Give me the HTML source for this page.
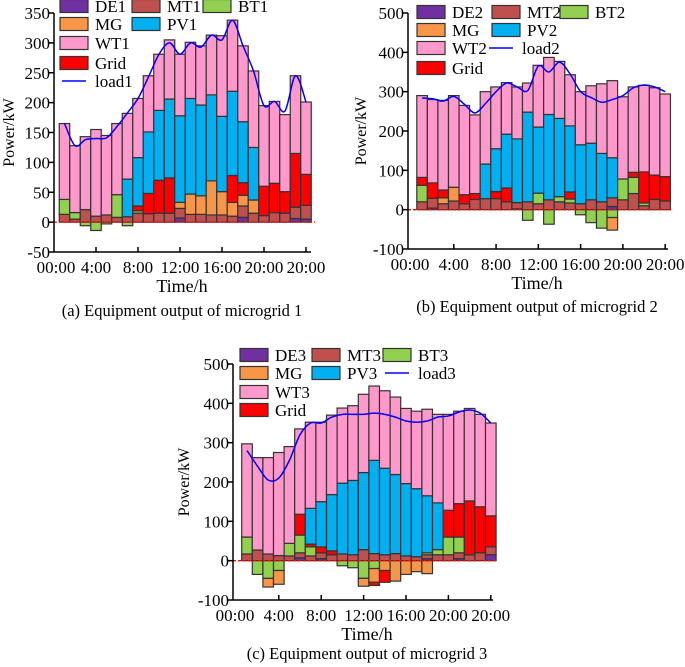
<!DOCTYPE html>
<html><head><meta charset="utf-8"><style>
html,body{margin:0;padding:0;background:#fff}
svg{display:block;font-family:"Liberation Serif",serif}
</style></head><body>
<svg id="s" width="685" height="667" viewBox="0 0 685 667" xmlns="http://www.w3.org/2000/svg"></svg>
<script>
// ---------- data: microgrid 1 ----------
const de1=[0,0,0,0,0,0,0,0,0,0,0,7,0,0,0,0,0,8,0,0,0,0,6,5];
const mt1=[13,5,21,10,12,8,9,15,14,15,15,16,13,13,12,12,10,19,15,11,16,15,19,23];
const bt1=[25,11,-6,-14,-3,38,-6,4,0,0,0,0,0,0,0,0,0,0,0,0,0,0,0,0];
const mg1=[0,0,0,0,0,0,0,0,0,0,0,10,34,31,57,39,23,18,22,0,0,0,0,0];
const grid1=[0,0,0,0,0,0,0,8,34,55,59,0,0,0,0,0,45,21,0,49,49,36,90,52];
const pv1=[0,0,0,0,0,0,63,81,103,117,132,145,160,152,144,126,141,102,88,0,0,0,0,0];
const wt1=[127,112,122,145,133,119,110,99,94,94,99,103,94,99,100,135,119,127,128,135,137,129,130,121];
const load1=[165,128,138,140,141,160,183,207,243,281,300,281,300,293,313,305,338,295,253,195,202,186,245,201];
// ---------- data: microgrid 2 ----------
const de2=[0,4,0,0,0,0,0,0,0,2,0,0,0,0,0,0,0,0,8,0,0,0,0,0];
const mt2=[20,25,15,22,15,26,28,28,20,16,20,15,25,20,17,15,25,20,22,25,41,10,26,22];
const bt2=[42,0,0,0,0,0,0,0,0,0,-27,27,-37,13,10,-13,-33,-47,-20,53,41,7,0,0];
const mg2=[0,0,15,35,0,0,0,0,0,0,0,0,0,0,0,0,0,0,-32,0,0,0,0,0];
const grid2=[20,39,20,0,23,15,0,18,35,0,0,0,0,0,18,0,0,0,0,0,13,79,62,62];
const pv2=[0,0,0,0,0,0,88,109,137,162,228,168,217,199,168,150,144,123,102,0,0,0,0,0];
const wt2=[208,212,228,233,227,200,184,157,131,132,74,157,145,145,130,135,146,177,196,209,217,220,222,210];
const load2=[284,282,276,288,268,246,270,300,322,312,303,365,350,375,345,300,285,273,280,290,310,317,312,300];
// ---------- data: microgrid 3 ----------
const de3=[0,0,0,0,0,7,0,5,0,0,0,0,0,0,0,0,0,5,0,0,5,0,0,15];
const mt3=[17,27,17,13,12,13,12,15,15,17,15,28,18,15,18,12,10,10,15,15,15,15,20,20];
const bt3=[43,-35,-45,-25,32,45,23,0,0,-13,-18,-45,-20,0,0,0,0,5,13,45,40,0,0,0];
const mg3=[0,0,-22,-35,0,0,0,0,0,0,0,-20,-35,-25,-52,-35,-28,-33,0,0,0,0,0,0];
const grid3=[0,0,0,0,0,53,7,15,10,0,0,0,-8,-30,0,0,0,0,0,68,85,137,117,79];
const pv3=[0,0,0,0,0,0,91,115,143,180,189,196,237,220,201,184,173,145,119,0,0,0,0,0];
const wt3=[237,235,245,262,246,217,219,202,202,191,190,199,189,197,197,191,197,220,225,244,235,235,235,236];
const load3=[280,240,205,210,255,320,350,350,365,372,372,372,375,372,365,355,352,355,365,368,378,383,375,350];
// ---------- tick labels ----------
const xTickLabels=["00:00","4:00","8:00","12:00","16:00","20:00","20:00"];
const xTickHours=[0,4,8,12,16,20,24];
const yTicks1=[-50,0,50,100,150,200,250,300,350];
const yTicks23=[-100,0,100,200,300,400,500];

const NS="http://www.w3.org/2000/svg";
const svg=document.getElementById('s');
const COL={DE:"#7030a0",MT:"#c0504d",BT:"#92d050",MG:"#f79646",PV:"#00b0f0",WT:"#ff99cc",Grid:"#ff0000"};
function mk(tag,attrs,parent,txt){const e=document.createElementNS(NS,tag);for(const k in attrs)e.setAttribute(k,attrs[k]);if(txt!==undefined)e.textContent=txt;(parent||svg).appendChild(e);return e;}

function chart(cfg){
  const g=mk('g',{});
  
  
  const ymin=cfg.yTicks[0],ymax=cfg.yTicks[cfg.yTicks.length-1];
  const Y=v=>cfg.yBot-(v-ymin)/(ymax-ymin)*(cfg.yBot-cfg.yTop);
  const X=h=>cfg.x0+cfg.hw*h;
  const bw=cfg.hw;
  const S=cfg.series;
  const posOrder=["DE","MT","BT","MG","Grid","PV","WT"];
  const negOrder=["BT","MG","Grid"];
  for(let i=0;i<24;i++){
    const cx=X(i+1);
    let top=0;
    for(const k of posOrder){const v=S[k][i];if(v>0){const r=mk('rect',{x:cx-bw/2,y:Y(top+v),width:bw,height:Y(top)-Y(top+v),fill:COL[k],stroke:"#333",'stroke-width':1.2},g);
      
      top+=v;}}
    let bot=0;
    for(const k of negOrder){const v=S[k][i];if(v<0){const r=mk('rect',{x:cx-bw/2,y:Y(bot),width:bw,height:Y(bot+v)-Y(bot),fill:COL[k],stroke:"#333",'stroke-width':1.2},g);
      
      bot+=v;}}
  }
  const z=mk('line',{x1:cfg.axisX,x2:cfg.xEnd+4,y1:Y(0),y2:Y(0),stroke:"#ff0000",'stroke-width':1.3,'stroke-dasharray':"3,2"},g);
  
  
  const pts=cfg.load.map((v,i)=>[X(i+1),Y(v)]);
  let d="M"+pts[0][0]+","+pts[0][1];
  for(let i=0;i<pts.length-1;i++){const p0=pts[Math.max(0,i-1)],p1=pts[i],p2=pts[i+1],p3=pts[Math.min(pts.length-1,i+2)];
    d+=" C"+(p1[0]+(p2[0]-p0[0])/6)+","+(p1[1]+(p2[1]-p0[1])/6)+" "+(p2[0]-(p3[0]-p1[0])/6)+","+(p2[1]-(p3[1]-p1[1])/6)+" "+p2[0]+","+p2[1];}
  const ln=mk('path',{d:d,fill:"none",stroke:"#0000ff",'stroke-width':1.5},g);
  
  
  const ya=mk('line',{x1:cfg.axisX,x2:cfg.axisX,y1:cfg.yTop,y2:cfg.yBot,stroke:"#000",'stroke-width':1.5},g);
  
  
  const xa=mk('line',{x1:cfg.axisX,x2:cfg.xEnd,y1:cfg.yBot,y2:cfg.yBot,stroke:"#000",'stroke-width':1.5},g);
  
  
  for(const t of cfg.yTicks){const y=Y(t);mk('line',{x1:cfg.axisX-5,x2:cfg.axisX,y1:y,y2:y,stroke:"#000",'stroke-width':1.5},g);
    const tx=mk('text',{x:cfg.axisX-4,y:y+6,'text-anchor':"end",'font-size':17},g,String(t));
    
    }
  xTickHours.forEach((h,j)=>{const x=j===0?cfg.axisX:X(h);
    if(j>0)mk('line',{x1:x,x2:x,y1:cfg.yBot,y2:cfg.yBot-5,stroke:"#000",'stroke-width':1.5},g);
    const tx=mk('text',{x:j===0?x+2:x,y:cfg.yBot+21,'text-anchor':"middle",'font-size':17},g,xTickLabels[j]);
    
    });
  const yt=mk('text',{x:0,y:0,transform:"translate("+cfg.ytX+","+((cfg.yTop+cfg.yBot)/2)+") rotate(-90)",'text-anchor':"middle",'font-size':16},g,"Power/kW");
  
  
  const xt=mk('text',{x:cfg.midX,y:cfg.yBot+40,'text-anchor':"middle",'font-size':18},g,"Time/h");
  
  
  const cp=mk('text',{x:cfg.midX,y:cfg.capY,'text-anchor':"middle",'font-size':16.5},g,cfg.caption);
  
  
  for(const e of cfg.legend){
    const lg=mk('g',{},g);
    
    
    if(e[1]==="line")mk('line',{x1:e[2]+2,x2:e[2]+26,y1:e[3],y2:e[3],stroke:"#0000ff",'stroke-width':1.5},lg);
    else mk('rect',{x:e[2],y:e[3]-6.5,width:28,height:13,fill:COL[e[1]],stroke:"#333",'stroke-width':1.2},lg);
    mk('text',{x:e[2]+35,y:e[3]+6,'font-size':17},lg,e[0]);
  }
}

chart({name:"chart-microgrid-1",x0:54,axisX:54,hw:10.5,yTop:13,yBot:252,xEnd:311,yTicks:yTicks1,ytX:14,midX:182,capY:316,
  caption:"(a) Equipment output of microgrid 1",
  series:{DE:de1,MT:mt1,BT:bt1,MG:mg1,Grid:grid1,PV:pv1,WT:wt1},load:load1,
  legend:[["DE1","DE",60,6],["MT1","MT",132,6],["BT1","BT",203,6],["MG","MG",60,24],["PV1","PV",132,24],["WT1","WT",60,43],["Grid","Grid",60,63],["load1","line",60,81]]});
chart({name:"chart-microgrid-2",x0:411.5,axisX:408,hw:10.57,yTop:13,yBot:249,xEnd:668,yTicks:yTicks23,ytX:366,midX:537,capY:312,
  caption:"(b) Equipment output of microgrid 2",
  series:{DE:de2,MT:mt2,BT:bt2,MG:mg2,Grid:grid2,PV:pv2,WT:wt2},load:load2,
  legend:[["DE2","DE",417,12],["MT2","MT",492,12],["BT2","BT",560,12],["MG","MG",417,30],["PV2","PV",492,30],["WT2","WT",417,48],["load2","line",487,48],["Grid","Grid",417,68]]});
chart({name:"chart-microgrid-3",x0:236.4,axisX:233,hw:10.6,yTop:364,yBot:600,xEnd:493,yTicks:yTicks23,ytX:189,midX:367,capY:659,
  caption:"(c) Equipment output of microgrid 3",
  series:{DE:de3,MT:mt3,BT:bt3,MG:mg3,Grid:grid3,PV:pv3,WT:wt3},load:load3,
  legend:[["DE3","DE",240,355],["MT3","MT",312,355],["BT3","BT",383,355],["MG","MG",240,373],["PV3","PV",312,373],["load3","line",383,373],["WT3","WT",240,392],["Grid","Grid",240,410]]});
</script>
</body></html>
